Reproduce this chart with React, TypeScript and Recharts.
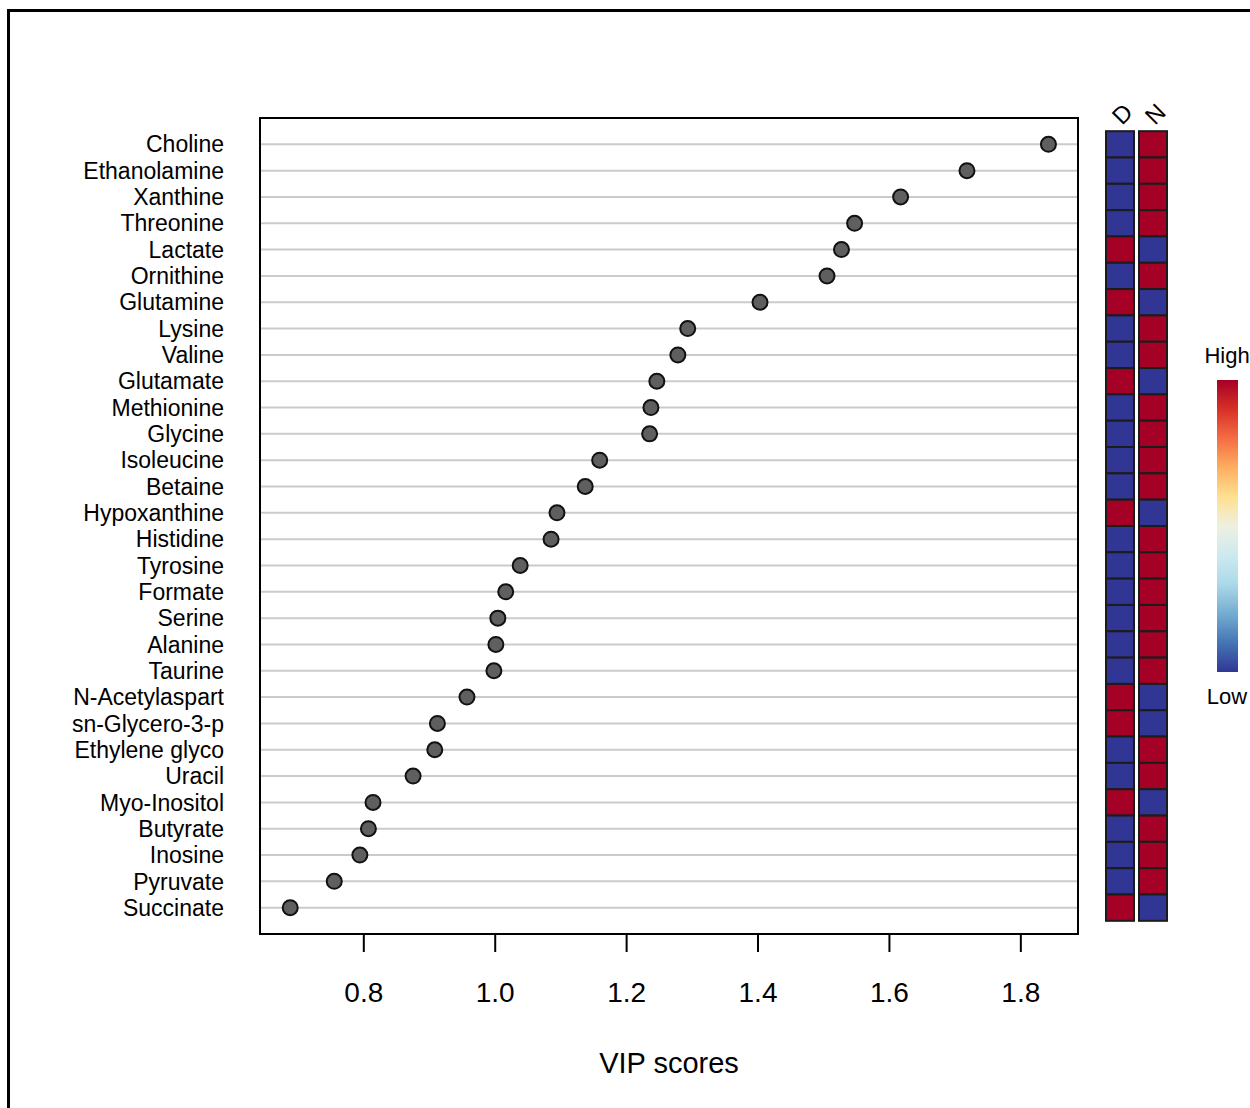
import { ScatterChart, Scatter, XAxis, YAxis, CartesianGrid, ReferenceArea } from "recharts"

const FONT = '"Liberation Sans", Arial, sans-serif'
const RED = "#A50026"
const BLUE = "#313695"

const compounds = [
  "Choline", "Ethanolamine", "Xanthine", "Threonine", "Lactate", "Ornithine",
  "Glutamine", "Lysine", "Valine", "Glutamate", "Methionine", "Glycine",
  "Isoleucine", "Betaine", "Hypoxanthine", "Histidine", "Tyrosine", "Formate",
  "Serine", "Alanine", "Taurine", "N-Acetylaspart", "sn-Glycero-3-p", "Ethylene glyco",
  "Uracil", "Myo-Inositol", "Butyrate", "Inosine", "Pyruvate", "Succinate",
]
const vipScores = [
  1.842, 1.718, 1.617, 1.547, 1.527, 1.505,
  1.403, 1.293, 1.278, 1.246, 1.237, 1.235,
  1.159, 1.137, 1.094, 1.085, 1.038, 1.016,
  1.004, 1.001, 0.998, 0.957, 0.912, 0.908,
  0.875, 0.814, 0.807, 0.794, 0.755, 0.688,
]
// 1 = high (red), 0 = low (blue)
const groupD = [0, 0, 0, 0, 1, 0, 1, 0, 0, 1, 0, 0, 0, 0, 1, 0, 0, 0, 0, 0, 0, 1, 1, 0, 0, 1, 0, 0, 0, 1]
const groupN = [1, 1, 1, 1, 0, 1, 0, 1, 1, 0, 1, 1, 1, 1, 0, 1, 1, 1, 1, 1, 1, 0, 0, 1, 1, 0, 1, 1, 1, 0]
const groups = ["D", "N"]
const xTicks = [0.8, 1.0, 1.2, 1.4, 1.6, 1.8]

const rowTicks = compounds.map((_, i) => i + 1)
const points = compounds.map((name, i) => ({ name, row: i + 1, vip: vipScores[i] }))
const heatD = compounds.map((name, i) => ({ name, col: 1, row: i + 1, high: groupD[i] }))
const heatN = compounds.map((name, i) => ({ name, col: 2, row: i + 1, high: groupN[i] }))

const Dot = (p: any) => (
  <circle cx={p.cx} cy={p.cy} r={7.5} fill="#5f5f5f" stroke="#111" strokeWidth={2} />
)
const HeatCell = (p: any) => (
  <rect x={p.cx - 14} y={p.cy - 13.15} width={28} height={26.3}
    fill={p.payload.high ? RED : BLUE} stroke="#1c1c1c" strokeWidth={2} />
)
const GroupTick = (p: any) => {
  const x = p.x + 2
  const y = 126
  return (
    <text x={x} y={y} transform={`rotate(-45, ${x}, ${y})`} fontSize={24} fontFamily={FONT} fill="#000">
      {groups[p.payload.value - 1]}
    </text>
  )
}

export default function App() {
  return (
    <div style={{ position: "absolute", left: 0, top: 0, width: 1250, height: 1108, overflow: "hidden", background: "#fff", fontFamily: FONT }}>
      <div style={{ position: "absolute", left: 7, top: 9, width: 1400, height: 1300, borderLeft: "3px solid #000", borderTop: "3px solid #000" }} />

      <div style={{ position: "absolute", left: 0, top: 0 }}>
        <ScatterChart width={1090} height={1108} margin={{ top: 118, right: 12, bottom: 0, left: 0 }}>
          <CartesianGrid vertical={false} stroke="#cbcbcb" strokeWidth={2} />
          <XAxis type="number" dataKey="vip" domain={[0.642, 1.887]} ticks={xTicks} height={174}
            tickFormatter={(v) => v.toFixed(1)} axisLine={false}
            tickLine={{ stroke: "#000", strokeWidth: 2 }} tickSize={18} tickMargin={30}
            tick={{ fill: "#000", fontSize: 28, fontFamily: FONT }}
            label={{ value: "VIP scores", position: "insideBottom", offset: 35, fill: "#000", fontSize: 29, fontFamily: FONT }} />
          <YAxis type="number" dataKey="row" domain={[0, 31]} reversed ticks={rowTicks} interval={0} width={260}
            tickFormatter={(v) => compounds[v - 1]} axisLine={false} tickLine={false} tickSize={0} tickMargin={36}
            tick={{ fill: "#000", fontSize: 23, fontFamily: FONT }} />
          <ReferenceArea x1={0.642} x2={1.887} y1={0} y2={31} fill="none" stroke="#000" strokeWidth={2} />
          <Scatter data={points} shape={Dot} isAnimationActive={false} />
        </ScatterChart>
      </div>

      <div style={{ position: "absolute", left: 1087, top: 0 }}>
        <ScatterChart width={99} height={1108} margin={{ top: 0, right: 0, bottom: 174, left: 0 }}>
          <XAxis type="number" dataKey="col" orientation="top" domain={[0, 3]} ticks={[1, 2]} height={118}
            axisLine={false} tickLine={false} tick={GroupTick} />
          <YAxis type="number" dataKey="row" domain={[0, 31]} reversed hide />
          <Scatter data={heatD} shape={HeatCell} isAnimationActive={false} />
          <Scatter data={heatN} shape={HeatCell} isAnimationActive={false} />
        </ScatterChart>
      </div>

      <svg style={{ position: "absolute", left: 1190, top: 330 }} width={60} height={390}>
        <defs>
          <linearGradient id="rdylbu" x1="0" y1="0" x2="0" y2="1">
            <stop offset="0" stopColor="#A50026" />
            <stop offset="0.1" stopColor="#D73027" />
            <stop offset="0.2" stopColor="#F46D43" />
            <stop offset="0.3" stopColor="#FDAE61" />
            <stop offset="0.4" stopColor="#FEE090" />
            <stop offset="0.5" stopColor="#EEF0E0" />
            <stop offset="0.6" stopColor="#CDE9F0" />
            <stop offset="0.7" stopColor="#ABD9E9" />
            <stop offset="0.8" stopColor="#74ADD1" />
            <stop offset="0.9" stopColor="#4575B4" />
            <stop offset="1" stopColor="#313695" />
          </linearGradient>
        </defs>
        <text x={37} y={33} textAnchor="middle" fontSize={22} fontFamily={FONT} fill="#000">High</text>
        <rect x={27} y={50} width={21} height={292} fill="url(#rdylbu)" />
        <text x={37} y={374} textAnchor="middle" fontSize={22} fontFamily={FONT} fill="#000">Low</text>
      </svg>
    </div>
  )
}
